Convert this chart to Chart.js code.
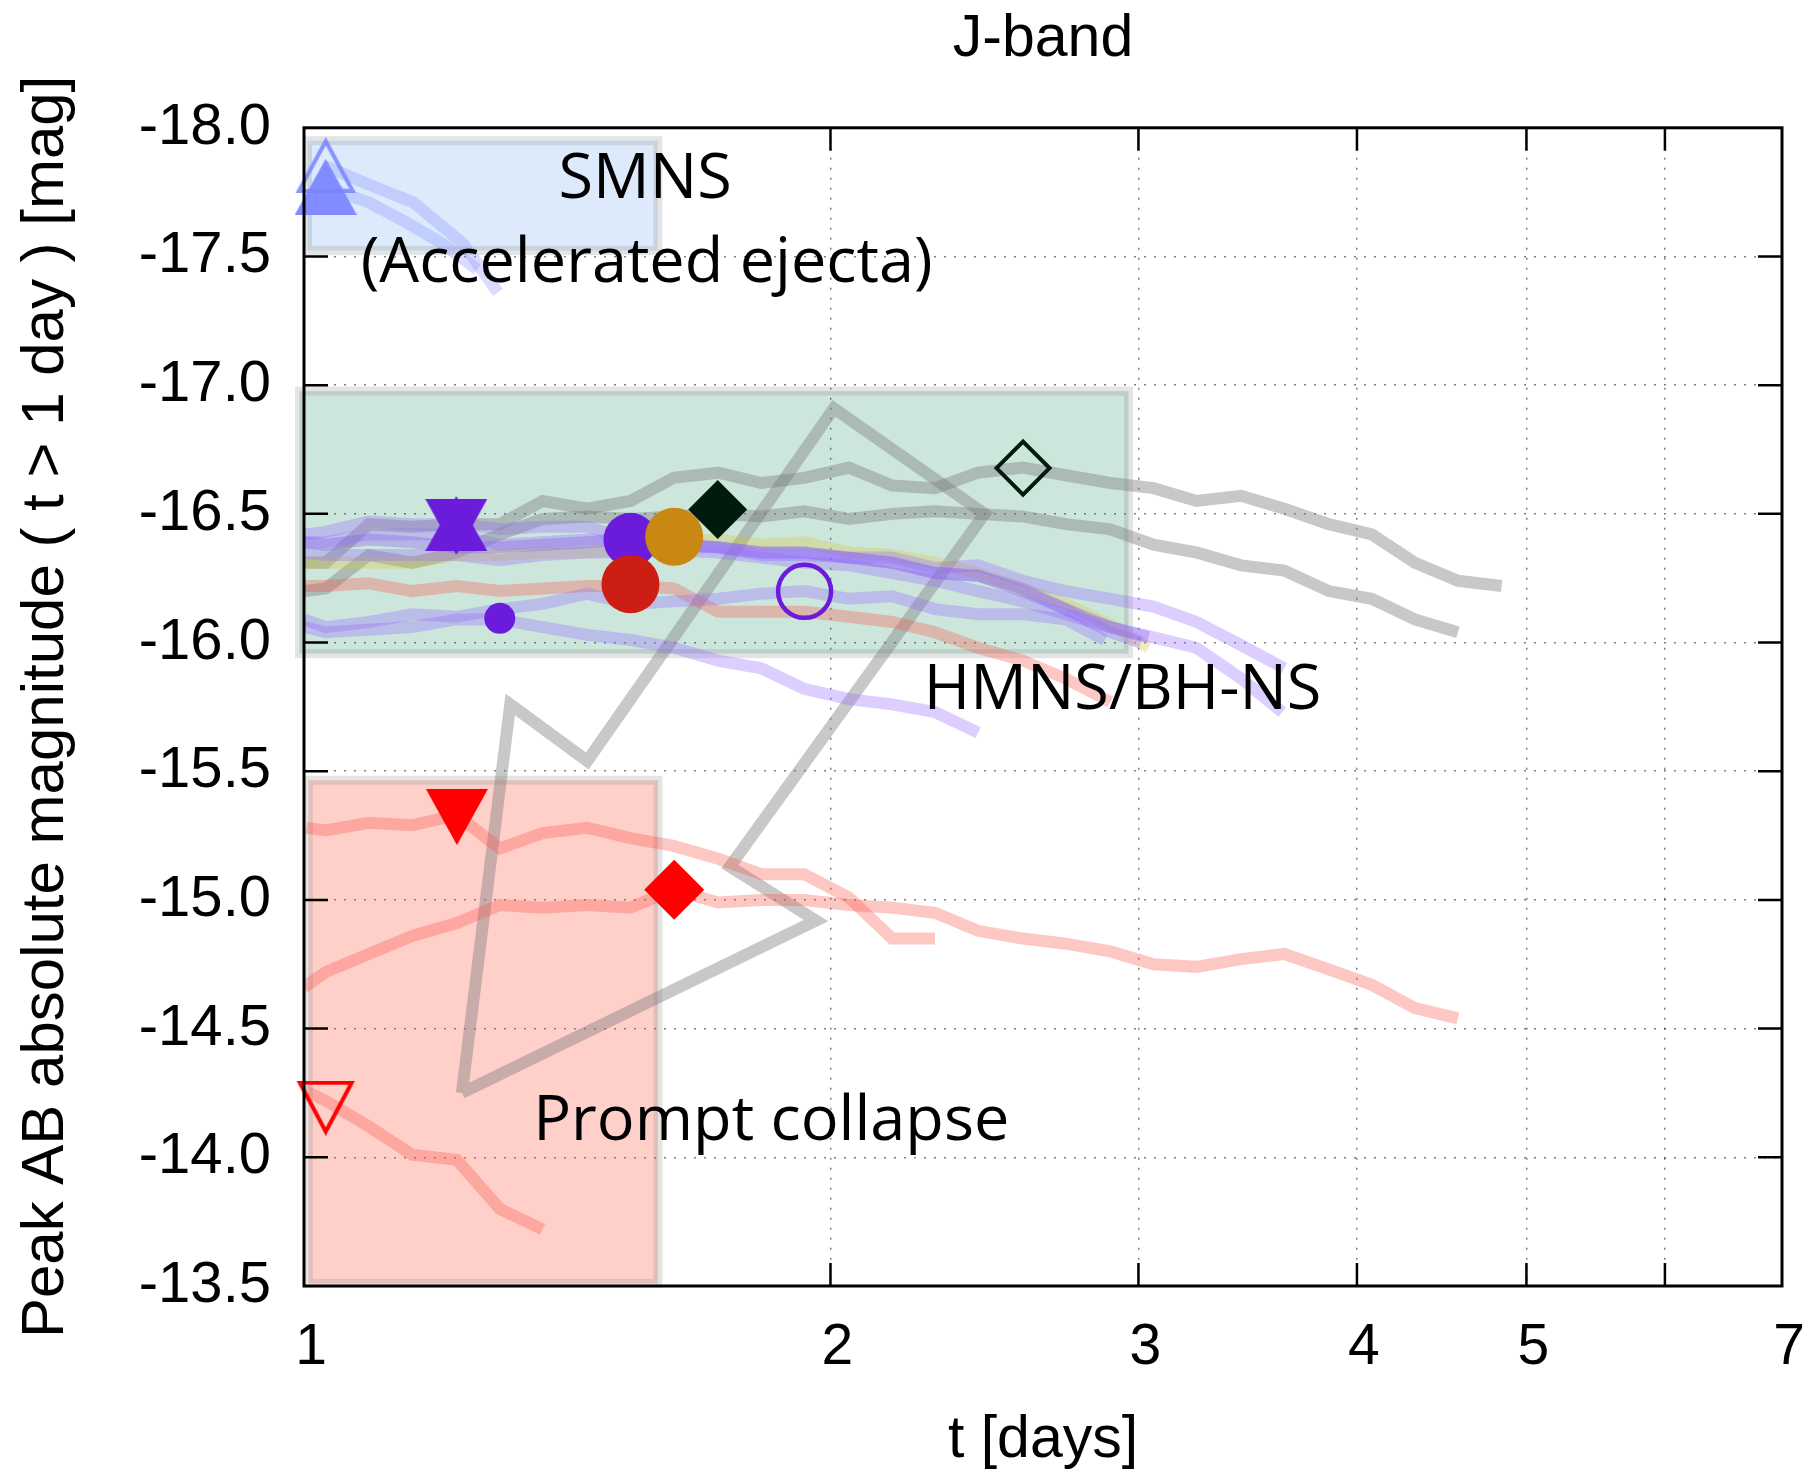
<!DOCTYPE html>
<html>
<head>
<meta charset="utf-8">
<script src="https://cdn.jsdelivr.net/npm/chart.js@4.4.1/dist/chart.umd.min.js"></script>
<style>
  html, body { margin: 0; padding: 0; background: #fff; }
  #wrap { width: 1813px; height: 1472px; position: relative; }
</style>
</head>
<body>
<div id="wrap"><canvas id="chart"></canvas></div>
<script>
// ---- axis ticks ----
const xTickValues = [1, 2, 3, 4, 5, 6, 7];
const xTickLabels = ['1', '2', '3', '4', '5', '', '7'];
const yTickValues = [-18, -17.5, -17, -16.5, -16, -15.5, -15, -14.5, -14, -13.5];
const yTickLabels = ['-18.0', '-17.5', '-17.0', '-16.5', '-16.0', '-15.5', '-15.0', '-14.5', '-14.0', '-13.5'];

// ---- light curves: [t (days), peak AB magnitude] ----
const grayUpper = [[1.000,-16.31],[1.029,-16.31],[1.089,-16.46],[1.153,-16.45],[1.223,-16.46],[1.294,-16.46],[1.369,-16.55],[1.452,-16.52],[1.537,-16.55],[1.627,-16.64],[1.725,-16.66],[1.826,-16.62],[1.932,-16.64],[2.049,-16.68],[2.169,-16.61],[2.295,-16.60],[2.429,-16.66],[2.576,-16.68],[2.726,-16.65],[2.891,-16.62],[3.060,-16.60],[3.238,-16.55],[3.434,-16.57],[3.635,-16.52],[3.855,-16.46],[4.079,-16.42],[4.317,-16.31],[4.569,-16.24],[4.839,-16.22]];
const grayLower = [[1.000,-16.20],[1.029,-16.21],[1.089,-16.34],[1.153,-16.31],[1.223,-16.35],[1.294,-16.42],[1.369,-16.48],[1.452,-16.49],[1.537,-16.48],[1.627,-16.49],[1.725,-16.50],[1.826,-16.49],[1.932,-16.51],[2.049,-16.48],[2.169,-16.50],[2.295,-16.51],[2.429,-16.50],[2.576,-16.49],[2.726,-16.46],[2.891,-16.44],[3.060,-16.38],[3.238,-16.35],[3.434,-16.30],[3.635,-16.28],[3.855,-16.20],[4.079,-16.17],[4.317,-16.09],[4.569,-16.04]];
const grayLoop = [[1.231,-14.25],[1.312,-15.76],[1.452,-15.54],[2.009,-16.91],[2.450,-16.50],[1.752,-15.13],[1.962,-14.92],[1.231,-14.25]];
const redUpper = [[1.003,-15.28],[1.029,-15.27],[1.089,-15.30],[1.153,-15.29],[1.223,-15.33],[1.294,-15.20],[1.369,-15.26],[1.452,-15.28],[1.537,-15.24],[1.627,-15.21],[1.725,-15.16],[1.826,-15.10],[1.932,-15.10],[2.049,-15.01],[2.169,-14.85],[2.295,-14.85]];
const redMiddle = [[1.000,-14.66],[1.029,-14.72],[1.089,-14.79],[1.153,-14.86],[1.223,-14.91],[1.294,-14.98],[1.369,-14.97],[1.452,-14.98],[1.537,-14.97],[1.627,-15.04],[1.725,-14.99],[1.826,-15.00],[1.932,-15.00],[2.049,-14.98],[2.169,-14.97],[2.295,-14.95],[2.429,-14.88],[2.576,-14.85],[2.726,-14.83],[2.891,-14.80],[3.060,-14.75],[3.238,-14.74],[3.434,-14.77],[3.635,-14.79],[3.855,-14.73],[4.079,-14.67],[4.317,-14.58],[4.569,-14.54]];
const redLower = [[1.000,-14.26],[1.029,-14.22],[1.089,-14.12],[1.153,-14.01],[1.223,-13.99],[1.294,-13.80],[1.369,-13.72]];
const salmonLine = [[1.000,-16.22],[1.029,-16.22],[1.089,-16.23],[1.153,-16.20],[1.223,-16.22],[1.294,-16.20],[1.369,-16.21],[1.452,-16.22],[1.537,-16.22],[1.627,-16.21],[1.725,-16.12],[1.826,-16.12],[1.932,-16.12],[2.049,-16.10],[2.169,-16.08],[2.295,-16.04],[2.429,-15.98],[2.576,-15.93],[2.726,-15.86],[2.891,-15.77]];
const yellowLine = [[1.000,-16.31],[1.029,-16.31],[1.089,-16.31],[1.153,-16.31],[1.223,-16.34],[1.294,-16.34],[1.369,-16.35],[1.452,-16.35],[1.537,-16.36],[1.627,-16.39],[1.725,-16.40],[1.826,-16.38],[1.932,-16.39],[2.049,-16.35],[2.169,-16.34],[2.295,-16.31],[2.429,-16.27],[2.576,-16.21],[2.726,-16.15],[2.891,-16.07],[3.040,-15.98]];
const lavA = [[1.000,-16.42],[1.029,-16.43],[1.089,-16.47],[1.153,-16.46],[1.223,-16.46],[1.294,-16.44],[1.369,-16.45],[1.452,-16.45],[1.537,-16.40],[1.627,-16.39],[1.725,-16.37],[1.826,-16.34],[1.932,-16.34],[2.049,-16.33],[2.169,-16.31],[2.295,-16.27],[2.429,-16.26],[2.576,-16.21],[2.726,-16.13],[2.891,-16.04],[3.010,-16.00]];
const lavB = [[1.000,-16.39],[1.029,-16.39],[1.089,-16.42],[1.153,-16.42],[1.223,-16.42],[1.294,-16.38],[1.369,-16.39],[1.452,-16.40],[1.537,-16.39],[1.627,-16.37],[1.725,-16.37],[1.826,-16.35],[1.932,-16.35],[2.049,-16.33],[2.169,-16.33],[2.295,-16.29],[2.429,-16.30],[2.576,-16.24],[2.726,-16.20],[2.891,-16.17],[3.060,-16.14],[3.238,-16.08],[3.434,-15.99],[3.635,-15.90]];
const lavC = [[1.000,-16.35],[1.029,-16.34],[1.089,-16.34],[1.153,-16.34],[1.223,-16.34],[1.294,-16.32],[1.369,-16.34],[1.452,-16.35],[1.537,-16.35],[1.627,-16.36],[1.725,-16.35],[1.826,-16.33],[1.932,-16.31],[2.049,-16.30],[2.169,-16.27],[2.295,-16.24],[2.429,-16.20],[2.576,-16.16],[2.726,-16.11],[2.891,-16.06],[3.060,-16.02],[3.238,-15.98],[3.434,-15.86],[3.625,-15.73]];
const lavD = [[1.000,-16.09],[1.029,-16.06],[1.089,-16.08],[1.153,-16.11],[1.223,-16.10],[1.294,-16.13],[1.369,-16.15],[1.452,-16.19],[1.537,-16.15],[1.627,-16.16],[1.725,-16.17],[1.826,-16.19],[1.932,-16.20],[2.049,-16.17],[2.169,-16.18],[2.295,-16.13],[2.429,-16.11],[2.576,-16.11],[2.726,-16.09],[2.870,-16.01]];
const lavE = [[1.000,-16.06],[1.029,-16.04],[1.089,-16.05],[1.153,-16.06],[1.223,-16.09],[1.294,-16.09],[1.369,-16.06],[1.452,-16.03],[1.537,-16.01],[1.627,-15.98],[1.725,-15.93],[1.826,-15.90],[1.932,-15.82],[2.049,-15.78],[2.169,-15.76],[2.295,-15.73],[2.429,-15.65]];
const purpleLine = [[1.000,-16.39],[1.029,-16.38],[1.089,-16.40],[1.153,-16.39],[1.223,-16.37],[1.294,-16.37],[1.369,-16.38],[1.452,-16.39],[1.537,-16.40],[1.627,-16.38],[1.725,-16.37],[1.826,-16.35],[1.932,-16.35],[2.049,-16.33],[2.169,-16.31],[2.295,-16.27],[2.429,-16.26],[2.576,-16.20],[2.726,-16.13],[2.891,-16.06],[3.040,-16.02]];
const smnsA = [[1.029,-17.85],[1.089,-17.78],[1.155,-17.71],[1.233,-17.55],[1.291,-17.36]];
const smnsB = [[1.029,-17.77],[1.089,-17.71],[1.146,-17.63],[1.200,-17.55],[1.256,-17.45]];

// ---- peak markers: [t, mag] ----
const smnsOpenPeak = [1.029, -17.855];
const smnsPeak = [1.029, -17.771];
const orangePeak = [1.628, -16.411];
const redCirclePeak = [1.537, -16.227];
const darkDiamondPeak = [1.724, -16.517];
const purpleBigPeak = [1.537, -16.399];
const purpleSmallPeak = [1.294, -16.094];
const hourglassPeak = [1.222, -16.455];
const openCirclePeak = [1.933, -16.199];
const openDiamondPeak = [2.577, -16.678];
const redDiamondPeak = [1.628, -15.040];
const redTriPeak = [1.223, -15.322];
const openRedTriPeak = [1.029, -14.191];

// ---- shaded regimes: [t0, t1, magTop, magBottom] ----
const smnsRange = [1.0046, 1.5936, -17.95, -17.523];
const hmnsRange = [0.9941, 2.961, -16.977, -15.957];
const promptRange = [1.0059, 1.5936, -15.465, -13.51];

// ---- annotation anchors: [t, mag at baseline] ----
const smnsLabelAt = [1.567, -17.729];
const accelLabelAt = [1.570, -17.399];
const hmnsLabelAt = [2.938, -15.740];
const promptLabelAt = [1.850, -14.066];

// ---------- drawing ----------
Chart.defaults.font.family = '"Liberation Sans", Arial, sans-serif';

function triSprite(w, h, dir, fill, stroke, lw) {
  const c = document.createElement('canvas');
  c.width = w; c.height = h;
  const g = c.getContext('2d');
  const p = lw ? lw : 0;
  g.beginPath();
  if (dir === 'up') { g.moveTo(w / 2, p); g.lineTo(w - p, h - p / 2); g.lineTo(p, h - p / 2); }
  else { g.moveTo(p, p / 2); g.lineTo(w - p, p / 2); g.lineTo(w / 2, h - p); }
  g.closePath();
  if (fill) { g.fillStyle = fill; g.fill(); }
  if (stroke) { g.strokeStyle = stroke; g.lineWidth = lw; g.lineJoin = 'miter'; g.stroke(); }
  return c;
}
function hourglassSprite(w, h, fill) {
  const c = document.createElement('canvas');
  c.width = w; c.height = h;
  const g = c.getContext('2d');
  g.fillStyle = fill;
  g.beginPath(); g.moveTo(w / 2, 0); g.lineTo(w, h - 4); g.lineTo(0, h - 4); g.closePath(); g.fill();
  g.beginPath(); g.moveTo(0, 3); g.lineTo(w, 3); g.lineTo(w / 2, h); g.closePath(); g.fill();
  return c;
}

const PURPLE = '#6b1cdb';
const sprites = {
  openBlueTri: triSprite(62, 56, 'up', null, 'rgba(120,132,255,0.85)', 4),
  blueTri: triSprite(62, 56, 'up', '#808cff', null, 0),
  hourglass: hourglassSprite(62, 59, PURPLE),
  redTri: triSprite(62, 56, 'down', '#ff0000', null, 0),
  openRedTri: triSprite(60, 55, 'down', null, '#ff0000', 4)
};

const GRAY = 'rgba(125,125,125,0.42)';
const RED = 'rgba(250,80,70,0.32)';
const YEL = 'rgba(215,200,60,0.32)';
const LAV = 'rgba(150,105,255,0.33)';
const PURP = 'rgba(120,70,240,0.30)';
const BLUE = 'rgba(128,140,255,0.30)';

const toXY = arr => arr.map(([x, y]) => ({ x, y }));

const curves = [
  [lavE, LAV], [lavD, LAV], [lavC, LAV], [lavB, LAV], [lavA, LAV], [purpleLine, PURP],
  [yellowLine, YEL], [salmonLine, RED], [redUpper, RED], [redMiddle, RED], [redLower, RED],
  [smnsA, BLUE], [smnsB, BLUE], [grayUpper, GRAY], [grayLower, GRAY], [grayLoop, GRAY]
];

const lineSets = curves.map(([pts, color]) => ({
  data: toXY(pts),
  showLine: true,
  borderColor: color,
  borderWidth: 12,
  borderJoinStyle: 'miter',
  borderCapStyle: 'butt',
  tension: 0,
  pointRadius: 0,
  pointHoverRadius: 0,
  fill: false,
  order: 2
}));

// marker appearance (drawn top-most first)
const markerDefs = [
  { pt: smnsOpenPeak, style: sprites.openBlueTri },
  { pt: smnsPeak, style: sprites.blueTri },
  { pt: orangePeak, style: 'circle', r: 29, fill: '#c98812' },
  { pt: redCirclePeak, style: 'circle', r: 29, fill: '#cc1e12' },
  { pt: darkDiamondPeak, style: 'rectRot', r: 29.5, fill: '#001a0e' },
  { pt: purpleBigPeak, style: 'circle', r: 27, fill: PURPLE },
  { pt: purpleSmallPeak, style: 'circle', r: 15.5, fill: PURPLE },
  { pt: hourglassPeak, style: sprites.hourglass },
  { pt: openCirclePeak, style: 'circle', r: 26.5, fill: 'rgba(0,0,0,0)', stroke: PURPLE, bw: 4.5 },
  { pt: openDiamondPeak, style: 'rectRot', r: 26.5, fill: 'rgba(0,0,0,0)', stroke: '#001a0e', bw: 4 },
  { pt: redDiamondPeak, style: 'rectRot', r: 30, fill: '#ff0000' },
  { pt: redTriPeak, style: sprites.redTri },
  { pt: openRedTriPeak, style: sprites.openRedTri }
];

const markerSets = markerDefs.map(m => ({
  data: [{ x: m.pt[0], y: m.pt[1] }],
  showLine: false,
  pointStyle: m.style,
  pointRadius: m.r || 30,
  pointHoverRadius: m.r || 30,
  pointBackgroundColor: m.fill || 'rgba(0,0,0,0)',
  pointBorderColor: m.stroke || 'rgba(0,0,0,0)',
  pointBorderWidth: m.bw || 0,
  clip: false,
  order: 1
}));

const regionStyles = [
  { range: smnsRange, fill: 'rgba(100,160,240,0.22)' },
  { range: hmnsRange, fill: 'rgba(0,130,80,0.20)' },
  { range: promptRange, fill: 'rgba(255,80,60,0.27)' }
];

const notes = [
  { text: 'SMNS', at: smnsLabelAt },
  { text: '(Accelerated ejecta)', at: accelLabelAt },
  { text: 'HMNS/BH-NS', at: hmnsLabelAt },
  { text: 'Prompt collapse', at: promptLabelAt }
];

const decor = {
  id: 'decor',
  beforeDatasetsDraw(chart) {
    const { ctx, scales: { x, y } } = chart;
    ctx.save();
    regionStyles.forEach(r => {
      const [t0, t1, m0, m1] = r.range;
      const x0 = x.getPixelForValue(t0), x1 = x.getPixelForValue(t1);
      const y0 = y.getPixelForValue(m0), y1 = y.getPixelForValue(m1);
      ctx.fillStyle = r.fill;
      ctx.fillRect(x0, y0, x1 - x0, y1 - y0);
      ctx.strokeStyle = 'rgba(120,120,120,0.2)';
      ctx.lineWidth = 9;
      ctx.strokeRect(x0, y0, x1 - x0, y1 - y0);
    });
    ctx.restore();
  },
  afterDatasetsDraw(chart) {
    const { ctx, chartArea: a, scales: { x, y } } = chart;
    ctx.save();
    // region labels
    ctx.fillStyle = '#000';
    ctx.font = '63px "Open Sans", "DejaVu Sans", sans-serif';
    ctx.textAlign = 'center';
    ctx.textBaseline = 'alphabetic';
    notes.forEach(n => {
      ctx.fillText(n.text, x.getPixelForValue(n.at[0]), y.getPixelForValue(n.at[1]));
    });
    // inward tick marks
    ctx.strokeStyle = '#000';
    ctx.lineWidth = 2.5;
    ctx.beginPath();
    yTickValues.slice(1, -1).forEach(v => {
      const py = y.getPixelForValue(v);
      ctx.moveTo(a.left, py); ctx.lineTo(a.left + 24, py);
      ctx.moveTo(a.right, py); ctx.lineTo(a.right - 24, py);
    });
    xTickValues.slice(1, -1).forEach(v => {
      const px = x.getPixelForValue(v);
      ctx.moveTo(px, a.bottom); ctx.lineTo(px, a.bottom - 23);
      ctx.moveTo(px, a.top); ctx.lineTo(px, a.top + 23);
    });
    ctx.stroke();
    // frame
    ctx.lineWidth = 3;
    ctx.strokeRect(a.left, a.top, a.right - a.left, a.bottom - a.top);
    ctx.restore();
  }
};

new Chart(document.getElementById('chart'), {
  type: 'scatter',
  data: { datasets: [...markerSets, ...lineSets] },
  options: {
    responsive: true,
    maintainAspectRatio: false,
    devicePixelRatio: 1,
    animation: false,
    events: [],
    layout: { padding: { left: 0, right: 26, top: 0, bottom: 0 } },
    plugins: {
      legend: { display: false },
      tooltip: { enabled: false },
      title: {
        display: true,
        text: 'J-band',
        fullSize: false,
        color: '#000',
        font: { size: 59, weight: 'normal', lineHeight: 1.2 },
        padding: { top: 4, bottom: 53 }
      }
    },
    scales: {
      x: {
        type: 'logarithmic',
        min: 1,
        max: 7,
        afterBuildTicks: s => { s.ticks = xTickValues.map(v => ({ value: v })); },
        afterFit: s => { s.height = 186; s.paddingLeft = 0; s.paddingRight = 0; },
        ticks: {
          callback: (v, i) => xTickLabels[i],
          color: '#000',
          font: { size: 57, lineHeight: 2.18 },
          padding: 0,
          labelOffset: 7,
          autoSkip: false,
          maxRotation: 0,
          minRotation: 0
        },
        grid: {
          color: c => (c.tick && (c.tick.value === 1 || c.tick.value === 7)) ? 'rgba(0,0,0,0)' : 'rgba(0,0,0,0.5)',
          lineWidth: 1.5,
          drawTicks: false
        },
        border: { display: false, dash: [2, 8] },
        title: {
          display: true,
          text: 't [days]',
          color: '#000',
          font: { size: 59, lineHeight: 1 },
          padding: { top: 0, bottom: 2 }
        }
      },
      y: {
        type: 'linear',
        min: -18,
        max: -13.5,
        reverse: true,
        afterBuildTicks: s => { s.ticks = yTickValues.map(v => ({ value: v })); },
        afterFit: s => { s.width = 304; },
        ticks: {
          callback: (v, i) => yTickLabels[i],
          color: '#000',
          font: { size: 58 },
          padding: 33,
          autoSkip: false
        },
        grid: { color: 'rgba(0,0,0,0.5)', lineWidth: 1.5, drawTicks: false },
        border: { display: false, dash: [2, 8] },
        title: {
          display: true,
          text: 'Peak AB absolute magnitude ( t > 1 day ) [mag]',
          color: '#000',
          font: { size: 60, lineHeight: 1.2 },
          padding: { top: 10, bottom: 0 }
        }
      }
    }
  },
  plugins: [decor]
});
</script>
</body>
</html>
